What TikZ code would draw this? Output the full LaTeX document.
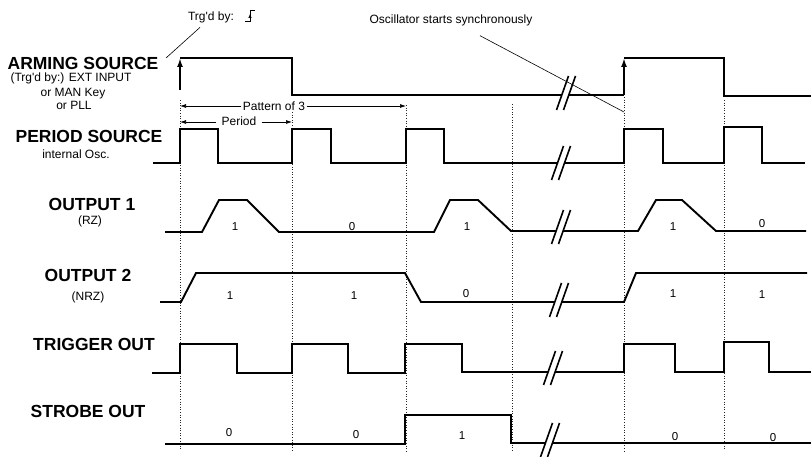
\documentclass[tikz,border=0pt]{standalone}
\usepackage{fontspec}
\setmainfont{Liberation Sans}
\usetikzlibrary{arrows.meta, positioning, calc}

% break mark on a waveform: white gap between two slashes
\newcommand{\sigbreak}[2]{%
    \fill[white] (#1-9.5,#2+17) -- (#1+2.5,#2-17) -- (#1+9.5,#2-17) -- (#1-2.5,#2+17) -- cycle;
    \draw[brk] (#1-9.5,#2+17) -- (#1+2.5,#2-17);
    \draw[brk] (#1-2.5,#2+17) -- (#1+9.5,#2-17);}

\begin{document}
\begin{tikzpicture}[
    x=1pt, y=-1pt,
    sig/.style={line width=1.9pt},
    sigarrow/.style={line width=1.9pt, -{Latex[length=9pt, width=6pt]}},
    brk/.style={line width=1.6pt},
    vline/.style={line width=0.6pt, black!85, dash pattern=on 1pt off 1.6pt},
    dimarrow/.style={-{Latex[length=6pt, width=4pt]}, line width=0.7pt},
    lead/.style={line width=0.6pt},
    title/.style={font=\fontsize{17.5}{20}\selectfont\bfseries, inner sep=0pt, anchor=base},
    lbl/.style={font=\fontsize{12}{14}\selectfont, inner sep=0pt, anchor=base},
    bitlbl/.style={font=\fontsize{11.5}{13}\selectfont, inner sep=0pt, anchor=base}
]
    \useasboundingbox (0,0) rectangle (811,457);

    % Time grid
    \foreach \x/\t in {180/100, 292/112, 406/105, 512/104, 624/97, 724/100}
        \draw[vline] (\x,\t) -- (\x,451);

    % Signal names
    \node[title] (arm)    at (83,70)    {ARMING SOURCE};
    \node[lbl]   (armin)  at (71,82)    {(Trg\textquotesingle d by:) EXT INPUT};
    \node[lbl]   (armman) at (73,96.5)  {or MAN Key};
    \node[lbl]   (armpll) at (74,110)   {or PLL};
    \node[title] (per)    at (89,142.5) {PERIOD SOURCE};
    \node[lbl]   (perosc) at (76,158.5) {internal Osc.};
    \node[title] (out1)   at (92,210.5) {OUTPUT 1};
    \node[lbl]   (out1rz) at (90,225)   {(RZ)};
    \node[title] (out2)   at (88,281.5) {OUTPUT 2};
    \node[lbl]   (out2nrz) at (88,300.5) {(NRZ)};
    \node[title] (trig)   at (94,350)   {TRIGGER OUT};
    \node[title] (strb)   at (88,417.5) {STROBE OUT};

    % Arming source
    \draw[sigarrow] (180,90) -- (180,58);
    \draw[sig] (180,58) -- (292,58) -- (292,95) -- (624,95);
    \draw[sigarrow] (624,95) -- (624,58);
    \draw[sig] (624,58) -- (724,58) -- (724,96) -- (811,96);

    % Period source
    \draw[sig] (153,163) -- (180,163) -- (180,129) -- (218,129) -- (218,163)
        -- (292,163) -- (292,129) -- (331,129) -- (331,163)
        -- (406,163) -- (406,129) -- (444,129) -- (444,163)
        -- (624,163) -- (624,129) -- (663,129) -- (663,163)
        -- (724,163) -- (724,127) -- (762,127) -- (762,163) -- (805,163);

    % Output 1 (RZ)
    \draw[sig] (165,232) -- (202,232) -- (219,200) -- (247,200) -- (279,232)
        -- (434,232) -- (450,200) -- (478,200) -- (511,231)
        -- (638,231) -- (656,200) -- (682,200) -- (716,231) -- (806,231);

    % Output 2 (NRZ)
    \draw[sig] (160,302) -- (181,302) -- (196,273) -- (405,273) -- (421,302)
        -- (624,302) -- (636,273) -- (807,273);

    % Trigger out
    \draw[sig] (152,373) -- (180,373) -- (180,344) -- (237,344) -- (237,373)
        -- (292,373) -- (292,344) -- (348,344) -- (348,373)
        -- (405,373) -- (405,344) -- (462,344) -- (462,372)
        -- (624,372) -- (624,344) -- (675,344) -- (675,372)
        -- (724,372) -- (724,342) -- (769,342) -- (769,372) -- (811,372);

    % Strobe out
    \draw[sig] (165,444) -- (405,444) -- (405,415) -- (511,415) -- (511,443) -- (811,443);

    % Breaks
    \sigbreak{566}{93}
    \sigbreak{561}{163}
    \sigbreak{561}{227}
    \sigbreak{559}{300}
    \sigbreak{553}{368}
    \sigbreak{550}{440}

    % Bit values
    \foreach \x/\y/\b [count=\i] in {235/230/1, 352/230/0, 467/230/1, 673/230/1, 762/227/0,
            230/299/1, 354/299/1, 466/297/0, 673/297.5/1, 762/298/1,
            229/436/0, 356/438/0, 462/439/1, 675/440/0, 773/441/0}
        \node[bitlbl] (bit\i) at (\x,\y) {\b};

    % Pattern and period
    \coordinate (pat0) at (180,106);
    \coordinate (pat1) at (406,106);
    \node[lbl, inner xsep=1.5pt] (pat) at (274,110.5) {Pattern of 3};
    \draw[dimarrow] (pat.west |- pat0) -- (pat0);
    \draw[dimarrow] (pat.east |- pat1) -- (pat1);
    \coordinate (per0) at (180,122);
    \coordinate (per1) at (292,122);
    \node[lbl, inner xsep=5pt] (perd) at (239,126) {Period};
    \draw[dimarrow] (perd.west |- per0) -- (per0);
    \draw[dimarrow] (perd.east |- per1) -- (per1);

    % Notes
    \node[lbl] (trg) at (211,20.7) {Trg\textquotesingle d by:};
    \coordinate (trgend) at (166,58);
    \draw[lead] ([xshift=-11pt, yshift=-4pt]trg.south) -- (trgend);
    \draw[line width=0.6pt] (245,21) -- (250,21) -- (250,10) -- (255,10);
    \draw[-{Latex[length=4pt, width=3.5pt]}, line width=0.6pt] (250,21) -- (250,14);

    \node[lbl] (osc) at (451,24) {Oscillator starts synchronously};
    \coordinate (oscend) at (624,112);
    \draw[lead] ([xshift=29pt, yshift=-9pt]osc.south) -- (oscend);
\end{tikzpicture}
\end{document}
